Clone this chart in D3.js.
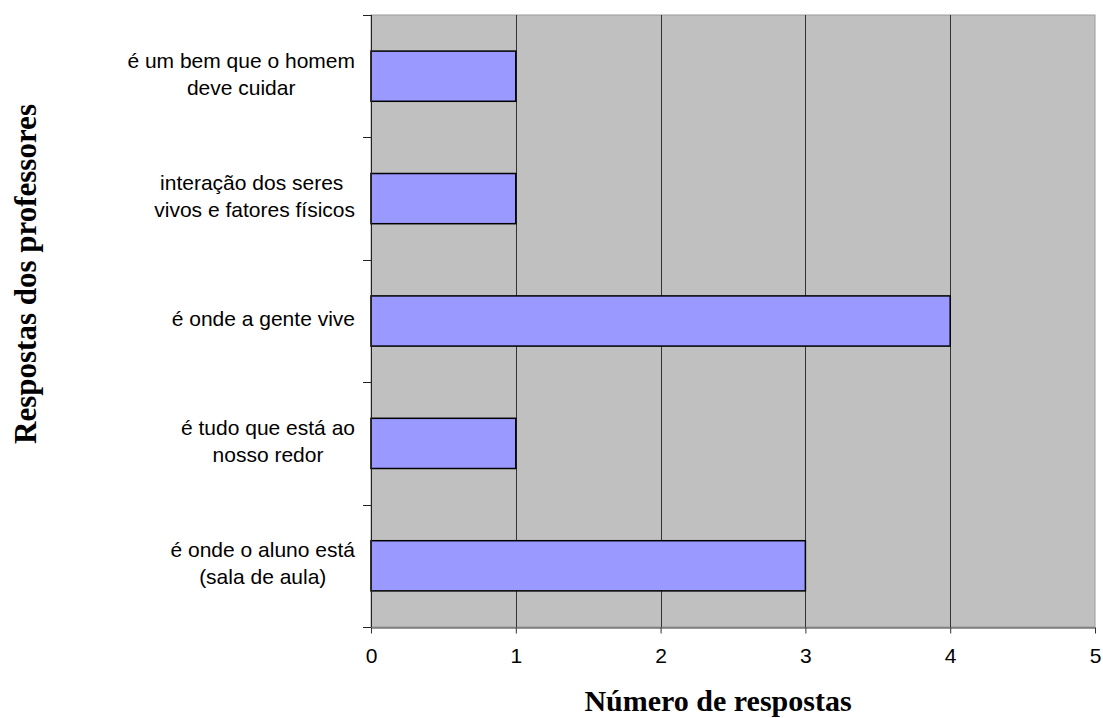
<!DOCTYPE html>
<html><head><meta charset="utf-8">
<script src="https://cdn.jsdelivr.net/npm/d3@7"></script>
<style>body{margin:0;background:#fff}svg{display:block}</style>
</head><body>
<script>
const categories = [
  ["é um bem que o homem", "deve cuidar"],
  ["interação dos seres ", "vivos e fatores físicos"],
  ["é onde a gente vive"],
  ["é tudo que está ao", "nosso redor"],
  ["é onde o aluno está", "(sala de aula)"]
];
const values = [1, 1, 4, 1, 3];
const xTicks = [0, 1, 2, 3, 4, 5];
const xTitle = "Número de respostas";
const yTitle = "Respostas dos professores";

const W = 1103, H = 718;
const L = 371, R = 1095, T = 15, B = 627;
const svg = d3.select("body").append("svg").attr("width", W).attr("height", H);

const x = d3.scaleLinear().domain([0, 5]).range([L, R]);
const y = d3.scaleBand().domain(d3.range(categories.length)).range([T, B])
  .paddingInner(0.59).paddingOuter(0.295);

// plot area
svg.append("rect").attr("x", L).attr("y", T).attr("width", R - L).attr("height", B - T)
  .attr("fill", "#c0c0c0").attr("stroke", "#9a9a9a").attr("stroke-width", 1);

// gridlines
svg.append("g").selectAll("line").data(xTicks.filter(d => d > 0 && d < 5)).join("line")
  .attr("x1", d => Math.round(x(d)) + 0.5).attr("x2", d => Math.round(x(d)) + 0.5)
  .attr("y1", T).attr("y2", B).attr("stroke", "#333").attr("stroke-width", 1);

// bars
svg.append("g").selectAll("rect").data(values).join("rect")
  .attr("x", x(0)).attr("y", (d, i) => y(i))
  .attr("width", d => x(d) - x(0)).attr("height", y.bandwidth())
  .attr("fill", "#9999ff").attr("stroke", "#000").attr("stroke-width", 1.5);

// x axis
const xAxis = d3.axisBottom(x).tickValues(xTicks).tickFormat(d3.format("d"))
  .tickSize(6).tickPadding(15).tickSizeOuter(0);
const gx = svg.append("g").attr("transform", `translate(0,${B + 0.5})`).call(xAxis);
gx.select(".domain").attr("stroke", "#333");
gx.selectAll(".tick line").attr("stroke", "#333");
gx.selectAll("text").attr("font-family", "Liberation Sans, Arial, sans-serif")
  .attr("font-size", 21).attr("fill", "#000").attr("dy", "0.71em");

// y axis (ticks at band boundaries)
const bounds = d3.range(categories.length + 1).map(i => T + i * (B - T) / categories.length);
svg.append("line").attr("x1", L + 0.5).attr("x2", L + 0.5).attr("y1", T).attr("y2", B)
  .attr("stroke", "#222");
svg.append("g").selectAll("line").data(bounds).join("line")
  .attr("x1", L - 8).attr("x2", L).attr("y1", d => Math.round(d) + 0.5).attr("y2", d => Math.round(d) + 0.5)
  .attr("stroke", "#222");

// category labels
const fs = 21, lh = 27, rightEdge = 355;
const lg = svg.append("g").attr("font-family", "Liberation Sans, Arial, sans-serif")
  .attr("font-size", fs).attr("fill", "#000");
categories.forEach((lines, i) => {
  const cy = y(i) + y.bandwidth() / 2;
  const t = lg.append("text").attr("text-anchor", "middle");
  lines.forEach((ln, j) => {
    t.append("tspan").attr("y", cy + 5 + (j - (lines.length - 1) / 2) * lh)
      .attr("xml:space", "preserve").text(ln);
  });
  let maxW = 0;
  t.selectAll("tspan").each(function () { maxW = Math.max(maxW, this.getComputedTextLength()); });
  t.selectAll("tspan").attr("x", rightEdge - maxW / 2);
});

// titles
svg.append("text").attr("x", 718).attr("y", 711).attr("text-anchor", "middle")
  .attr("font-family", "Liberation Serif, Times New Roman, serif").attr("font-weight", "bold")
  .attr("font-size", 30).text(xTitle);
svg.append("text").attr("transform", "translate(36,274) rotate(-90)").attr("text-anchor", "middle")
  .attr("font-family", "Liberation Serif, Times New Roman, serif").attr("font-weight", "bold")
  .attr("font-size", 31).text(yTitle);
</script>
</body></html>
